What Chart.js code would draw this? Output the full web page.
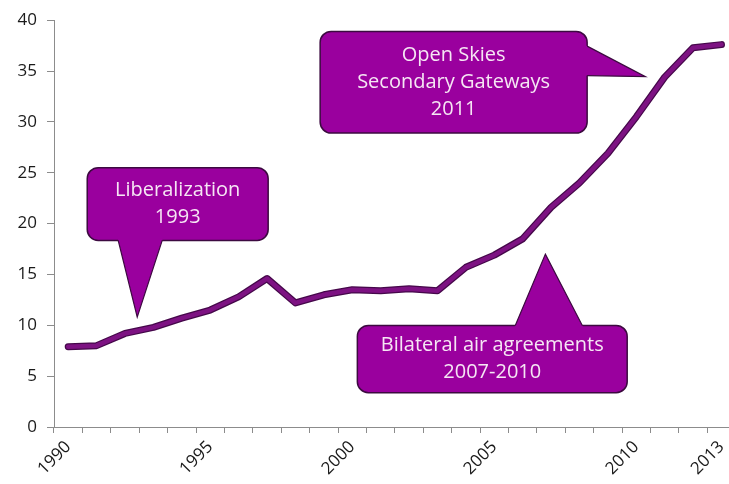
<!DOCTYPE html>
<html>
<head>
<meta charset="utf-8">
<script src="https://cdn.jsdelivr.net/npm/chart.js@4.4.1/dist/chart.umd.min.js"></script>
<style>
  html, body { margin: 0; padding: 0; background: #fff; overflow: hidden; }
  #wrap { width: 729px; height: 484px; overflow: hidden; }
  canvas { display: block; }
</style>
</head>
<body>
<div id="wrap"><canvas id="paxChart" width="740" height="484"></canvas></div>
<script>
  /* =========================
     DATA
  ========================= */
  const years = [
    "1990", "1991", "1992", "1993", "1994", "1995", "1996", "1997",
    "1998", "1999", "2000", "2001", "2002", "2003", "2004", "2005",
    "2006", "2007", "2008", "2009", "2010", "2011", "2012", "2013"
  ];
  const passengers = [
    7.9, 8.0, 9.2, 9.8, 10.7, 11.5, 12.8, 14.6,
    12.2, 13.0, 13.5, 13.4, 13.6, 13.4, 15.7, 16.9,
    18.5, 21.6, 24.0, 26.9, 30.5, 34.4, 37.3, 37.6
  ];
  const shownYears = ["1990", "1995", "2000", "2005", "2010", "2013"];
  const yTicks = [0, 5, 10, 15, 20, 25, 30, 35, 40];

  // callouts in data space: x = category index, y = value
  const callouts = [
    {
      lines: ["Liberalization", "1993"],
      box: { x0: 0.67, x1: 7.04, y0: 25.5, y1: 18.35 },
      tail: [[1.76, 18.35], [2.43, 10.8], [3.31, 18.35]]
    },
    {
      lines: ["Open Skies", "Secondary Gateways", "2011"],
      box: { x0: 8.87, x1: 18.27, y0: 38.9, y1: 28.9 },
      tail: [[18.27, 37.45], [20.32, 34.45], [18.27, 34.55]]
    },
    {
      lines: ["Bilateral air agreements", "2007-2010"],
      box: { x0: 10.18, x1: 19.68, y0: 9.99, y1: 3.38 },
      tail: [[15.74, 9.99], [16.8, 17.0], [18.1, 9.99]]
    }
  ];

  const FONT = "'Open Sans', Lato, sans-serif";
  const BOX_FILL = "#9a009e";
  const BOX_EDGE = "#3c0a40";
  const BOX_TEXT = "#f6e6f4";

  /* =========================
     CALLOUT PLUGIN
  ========================= */
  const calloutPlugin = {
    id: "callouts",
    afterDatasetsDraw(chart) {
      const { ctx, scales: { x, y } } = chart;
      const px = v => x.getPixelForValue(v);
      const py = v => y.getPixelForValue(v);

      callouts.forEach(c => {
        const l = px(c.box.x0), r = px(c.box.x1);
        const t = py(c.box.y0), b = py(c.box.y1);
        const cx = (l + r) / 2, cy = (t + b) / 2;

        ctx.save();
        ctx.beginPath();
        ctx.roundRect(l, t, r - l, b - t, 11);
        ctx.fillStyle = BOX_FILL;
        ctx.fill();
        ctx.lineWidth = 1.5;
        ctx.strokeStyle = BOX_EDGE;
        ctx.stroke();

        // tail: base pushed a bit into the box (away from the tip) to hide the border
        const pts = c.tail.map(p => [px(p[0]), py(p[1])]);
        const tip = pts[1];
        const inset = pts.map((p, i) => {
          if (i === 1) return p;
          const dx = p[0] - tip[0], dy = p[1] - tip[1];
          const len = Math.hypot(dx, dy) || 1;
          return [p[0] + dx / len * 4, p[1] + dy / len * 4];
        });
        ctx.beginPath();
        ctx.moveTo(inset[0][0], inset[0][1]);
        ctx.lineTo(tip[0], tip[1]);
        ctx.lineTo(inset[2][0], inset[2][1]);
        ctx.closePath();
        ctx.fillStyle = BOX_FILL;
        ctx.fill();
        ctx.beginPath();
        ctx.moveTo(pts[0][0], pts[0][1]);
        ctx.lineTo(tip[0], tip[1]);
        ctx.lineTo(pts[2][0], pts[2][1]);
        ctx.lineWidth = 1.2;
        ctx.strokeStyle = BOX_EDGE;
        ctx.stroke();

        // text
        ctx.fillStyle = BOX_TEXT;
        ctx.font = "20px " + FONT;
        ctx.textAlign = "center";
        ctx.textBaseline = "middle";
        const lh = 27;
        const startY = cy - (c.lines.length - 1) * lh / 2;
        c.lines.forEach((s, i) => ctx.fillText(s, cx, startY + i * lh));
        ctx.restore();
      });
    }
  };

  /* =========================
     CHART
  ========================= */
  const ctx = document.getElementById("paxChart").getContext("2d");

  new Chart(ctx, {
    type: "line",
    data: {
      labels: years,
      datasets: [
        {
          // inner purple stroke, drawn on top
          data: passengers,
          borderColor: "#7d1282",
          borderWidth: 4.5,
          pointRadius: 0,
          tension: 0,
          borderJoinStyle: "round",
          borderCapStyle: "round",
          order: 1
        },
        {
          // dark outline underneath
          data: passengers,
          borderColor: "#45084a",
          borderWidth: 7,
          pointRadius: 0,
          tension: 0,
          borderJoinStyle: "round",
          borderCapStyle: "round",
          order: 2
        }
      ]
    },
    options: {
      responsive: false,
      animation: false,
      layout: { padding: { left: 0, right: 4, top: 12, bottom: 0 } },
      plugins: {
        legend: { display: false },
        tooltip: { enabled: false }
      },
      scales: {
        x: {
          offset: true,
          grid: {
            offset: true,
            drawOnChartArea: false,
            drawTicks: true,
            tickLength: 6,
            color: "#8c8c8c"
          },
          border: { color: "#8c8c8c", width: 1 },
          ticks: {
            autoSkip: false,
            maxRotation: 45,
            minRotation: 45,
            padding: 4,
            color: "#1a1a1a",
            font: { family: FONT, size: 17 },
            callback: function (v) {
              const lab = this.getLabelForValue(v);
              return shownYears.includes(lab) ? lab : "";
            }
          },
          afterFit: s => { s.height = 57; }
        },
        y: {
          min: 0,
          max: 40,
          afterBuildTicks: s => { s.ticks = yTicks.map(v => ({ value: v })); },
          grid: {
            drawOnChartArea: false,
            drawTicks: true,
            tickLength: 7,
            color: "#8c8c8c"
          },
          border: { color: "#8c8c8c", width: 1 },
          ticks: {
            padding: 10,
            color: "#1a1a1a",
            font: { family: FONT, size: 17 }
          },
          afterFit: s => { s.width = 54; }
        }
      }
    },
    plugins: [calloutPlugin]
  });
</script>
</body>
</html>
